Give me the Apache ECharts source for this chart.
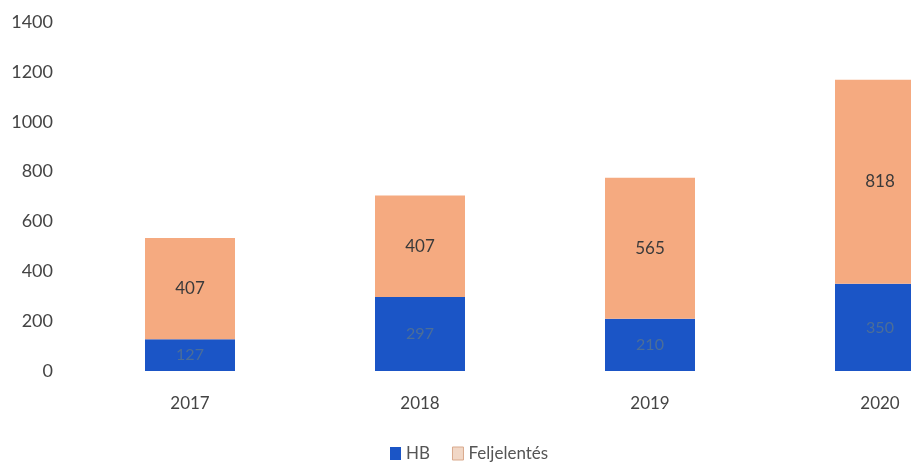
<!DOCTYPE html>
<html>
<head>
<meta charset="utf-8">
<script src="https://cdn.jsdelivr.net/npm/echarts@6/dist/echarts.min.js"></script>
<style>
html, body { margin: 0; padding: 0; background: #fff; }
#chart { width: 911px; height: 463px; }
</style>
</head>
<body>
<div id="chart"></div>
<script>
// évek és értékek
let years = ['2017', '2018', '2019', '2020'];
let hbValues = [127, 297, 210, 350];
let feljelentesValues = [407, 407, 565, 818];
let yTicks = [0, 200, 400, 600, 800, 1000, 1200, 1400];

let myChart = echarts.init(document.getElementById('chart'));

let option = {
    backgroundColor: '#fff',
    textStyle: { fontFamily: 'Lato' },
    grid: {
        left: 75,
        top: 22,
        right: -84, // a 2020-as oszlop kilóg a képből
        bottom: 92,
        outerBoundsMode: 'none',
        containLabel: false
    },
    legend: {
        top: 440,
        left: 385,
        itemWidth: 11,
        itemHeight: 13,
        itemGap: 22,
        textStyle: { color: '#555', fontSize: 17, fontFamily: 'Lato' },
        data: [
            { name: 'HB', icon: 'rect' },
            { name: 'Feljelentés', icon: 'rect', itemStyle: { color: '#f1d7c6', borderColor: '#d9a98c', borderWidth: 1 } }
        ]
    },
    xAxis: {
        type: 'category',
        data: years,
        axisLine: { show: false },
        axisTick: { show: false },
        axisLabel: { color: '#444', fontSize: 17, margin: 24 }
    },
    yAxis: {
        type: 'value',
        min: yTicks[0],
        max: yTicks[yTicks.length - 1],
        interval: 200,
        axisLine: { show: false },
        axisTick: { show: false },
        splitLine: { show: false },
        axisLabel: {
            color: '#444',
            fontSize: 18,
            margin: 22,
            formatter: function (v) { return String(v); }
        }
    },
    series: [
        {
            name: 'HB',
            type: 'bar',
            stack: 'total',
            barWidth: 90,
            data: hbValues,
            itemStyle: { color: '#1b55c6' },
            label: {
                show: true,
                position: 'inside',
                color: '#4c6e98',
                fontSize: 16
            }
        },
        {
            name: 'Feljelentés',
            type: 'bar',
            stack: 'total',
            barWidth: 90,
            data: feljelentesValues,
            itemStyle: { color: '#f5aa80' },
            label: {
                show: true,
                position: 'inside',
                color: '#3a3a3a',
                fontSize: 17
            }
        }
    ]
};

myChart.setOption(option);
</script>
</body>
</html>
